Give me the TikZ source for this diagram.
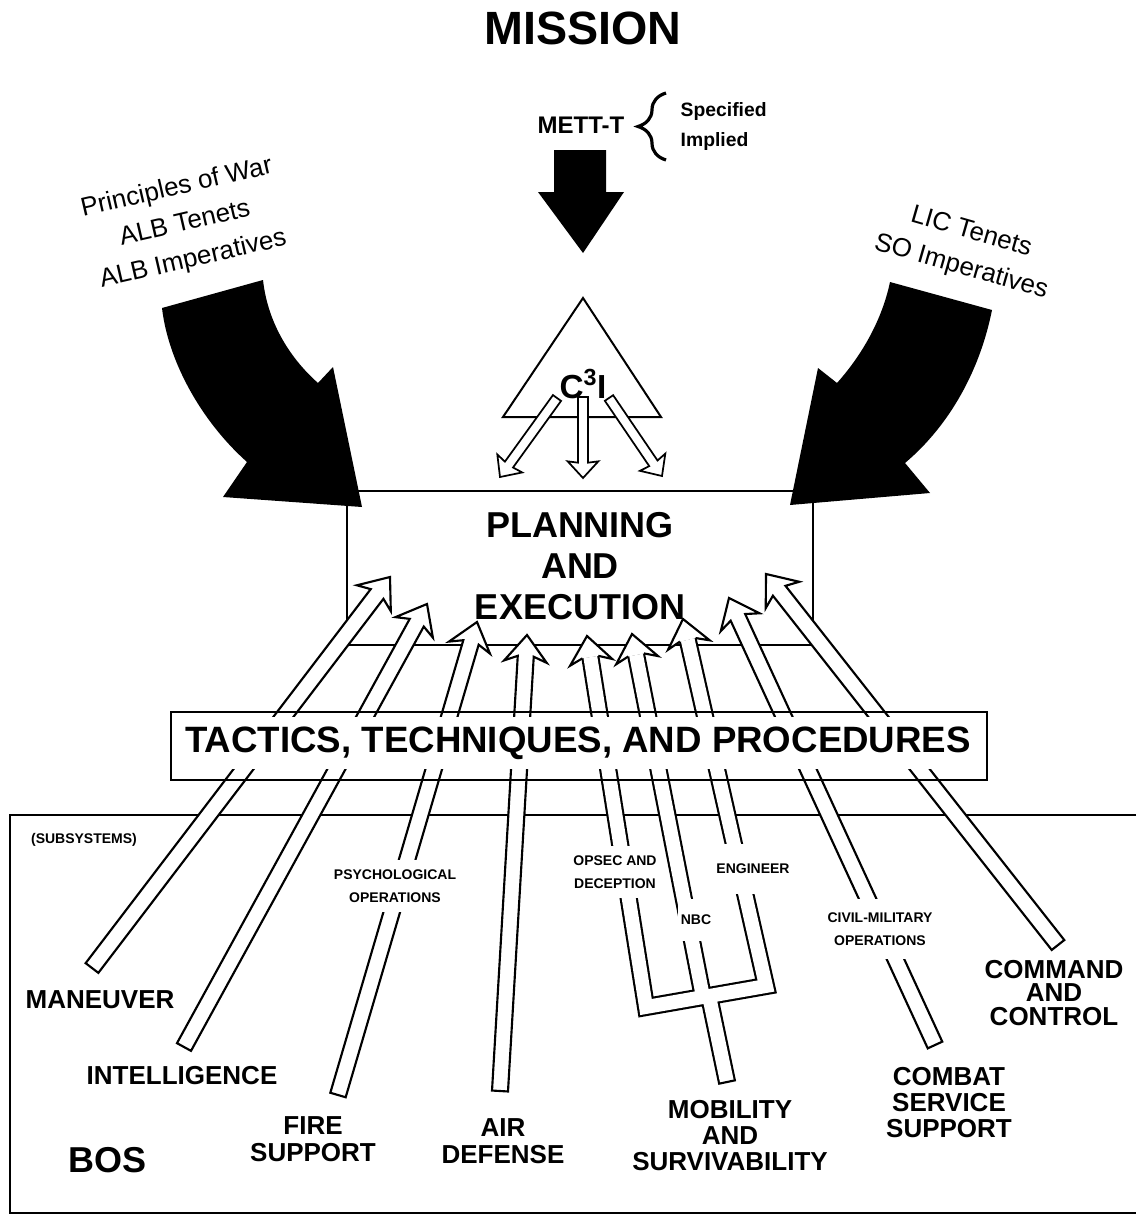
\documentclass[tikz,border=0pt]{standalone}
\usepackage{fontspec}
\setmainfont{Liberation Sans}
\usetikzlibrary{calc,decorations.pathreplacing}

\def\arrsw{6pt}\def\arrhw{16pt}\def\arrhb{16pt}\def\arrht{20pt}

\newcommand{\hollowarrow}[2]{%
  \coordinate (hb) at ($(#2)!\arrhb!(#1)$);
  \coordinate (hw) at ($(#2)!\arrht!(#1)$);
  \draw [arrowbody] ($(#1)!\arrsw!90:(#2)$) -- ($(hb)!\arrsw!90:(#2)$) -- ($(hw)!\arrhw!90:(#2)$) -- (#2) -- ($(hw)!\arrhw!-90:(#2)$) -- ($(hb)!\arrsw!-90:(#2)$) -- ($(#1)!\arrsw!-90:(#2)$) -- cycle ;
}
\newcommand{\hollowhead}[2]{%
  \coordinate (hb) at ($(#2)!\arrhb!(#1)$);
  \coordinate (hw) at ($(#2)!\arrht!(#1)$);
  \fill [white] ($(hb)!\arrsw!90:(#2)$) -- ($(hw)!\arrhw!90:(#2)$) -- (#2) -- ($(hw)!\arrhw!-90:(#2)$) -- ($(hb)!\arrsw!-90:(#2)$) -- cycle ;
  \draw [headline] ($(hb)!\arrsw!90:(#2)$) -- ($(hw)!\arrhw!90:(#2)$) -- (#2) -- ($(hw)!\arrhw!-90:(#2)$) -- ($(hb)!\arrsw!-90:(#2)$) ;
}

\tikzset{
  planbox/.style={draw, line width=1.5pt},
  bosframe/.style={draw, line width=1.3pt},
  arrowbody/.style={draw, fill=white, line width=1.6pt, line join=miter},
  headline/.style={draw, line width=1.6pt, line join=miter},
  pipeblack/.style={draw=black, line width=13.6pt, line join=miter},
  pipewhite/.style={draw=white, line width=10.4pt, line join=miter},
  bos/.style={font=\bfseries\fontsize{19.5}{19.5}\selectfont, align=center},
  subtag/.style={font=\bfseries\fontsize{10.5}{17}\selectfont, align=center, fill=white, inner xsep=2pt, inner ysep=7pt},
  slanttext/.style={font=\fontsize{19.5}{27.5}\selectfont, align=center},
}

\begin{document}
\begin{tikzpicture}[x=0.75pt,y=0.75pt,yscale=-1,xscale=1]
\useasboundingbox (0,0) rectangle (1136,1217);

%Shape: subsystems frame
\draw [bosframe] (1136,815) -- (10,815) -- (10,1213) -- (1136,1213) ;
%Shape: planning box
\draw [planbox] (347,491) rectangle (813,645) ;
%Shape: C3I triangle
\draw [planbox] (583,298) -- (661,417) -- (503,417) -- cycle ;

% C3I arrows
\begin{scope}
\def\arrsw{3.75pt}\def\arrhw{11.5pt}\def\arrhb{11.5pt}\def\arrht{12.5pt}
\tikzset{arrowbody/.append style={line width=1.3pt}}
\coordinate (cLT) at (557,398); \coordinate (cLH) at (500,477);
\coordinate (cMT) at (583,397); \coordinate (cMH) at (583,478);
\coordinate (cRT) at (609,398); \coordinate (cRH) at (662,476);
\hollowarrow{cLT}{cLH}
\hollowarrow{cMT}{cMH}
\hollowarrow{cRT}{cRH}
\end{scope}

%Shape: black arrows
\fill (554,150) -- (606,150) -- (606,192) -- (624,192) -- (583,253) -- (538,192) -- (554,192) -- cycle ;
\fill (162,308) -- (263,280) .. controls (268,325) and (292,360) .. (318,383) -- (333,367) -- (362,507) -- (223,497) -- (247,462) .. controls (200,420) and (168,360) .. (162,308) -- cycle ;
\fill (890,282) -- (992,310) .. controls (980,370) and (950,425) .. (905,463) -- (930,493) -- (790,505) -- (818,368) -- (837,383) .. controls (862,355) and (882,320) .. (890,282) -- cycle ;

% BOS arrows
\coordinate (manT) at (92,968);    \coordinate (manH) at (390,577);
\coordinate (intT) at (184,1047);  \coordinate (intH) at (427,604);
\coordinate (fireT) at (338,1095); \coordinate (fireH) at (477,622);
\coordinate (airT) at (500,1091);  \coordinate (airH) at (527,635);
\coordinate (cssT) at (935,1045);  \coordinate (cssH) at (729,598);
\coordinate (ccT) at (1058,945);   \coordinate (ccH) at (766,574);
\hollowarrow{manT}{manH}
\hollowarrow{intT}{intH}
\hollowarrow{fireT}{fireH}
\hollowarrow{airT}{airH}
\hollowarrow{cssT}{cssH}
\hollowarrow{ccT}{ccH}

% mobility and survivability fork
\coordinate (opsH) at (587,636);  \coordinate (opsE) at (646,1007);
\coordinate (nbcH) at (632,634);  \coordinate (nbcE) at (703,997);
\coordinate (engH) at (683,619);  \coordinate (engE) at (766,986);
\coordinate (stemJ) at (709,996); \coordinate (stemB) at (727,1082);
\coordinate (opsB) at ($(opsH)!\arrhb!(opsE)$);
\coordinate (nbcB) at ($(nbcH)!\arrhb!(nbcE)$);
\coordinate (engB) at ($(engH)!\arrhb!(engE)$);
\draw [pipeblack] (opsB) -- (opsE) -- (engE) -- (engB) (nbcB) -- (nbcE) (stemJ) -- (stemB) ;
\draw [pipewhite] (opsB) -- (opsE) -- (engE) -- (engB) (nbcB) -- (nbcE) (stemJ) -- (stemB) ;
\draw [headline] ($(stemB)!6.8pt!90:(stemJ)$) -- ($(stemB)!6.8pt!-90:(stemJ)$) ;
\hollowhead{opsE}{opsH}
\hollowhead{nbcE}{nbcH}
\hollowhead{engE}{engH}

%Shape: TTP box
\draw [planbox] (171,712) rectangle (987,780) ;
% Text Node
\draw (578,743) node [fill=white, inner xsep=2pt, inner ysep=7pt, font=\bfseries\fontsize{27.5}{28}\selectfont] (ttp) {TACTICS, TECHNIQUES, AND PROCEDURES};

% Text Node
\draw (395,886) node [subtag] (psyop) {PSYCHOLOGICAL\\OPERATIONS};
\draw (615,872) node [subtag] (opsec) {OPSEC AND\\DECEPTION};
\draw (696,920) node [subtag, inner ysep=12pt] (nbc) {NBC};
\draw (753,869) node [subtag, inner ysep=15pt] (eng) {ENGINEER};
\draw (880,929) node [subtag, inner ysep=10pt] (cmo) {CIVIL-MILITARY\\OPERATIONS};
\draw (84,840) node [font=\bfseries\fontsize{10.5}{12}\selectfont] (subsys) {(SUBSYSTEMS)};

% Text Node
\draw (583,28) node [font=\bfseries\fontsize{35}{36}\selectfont] (mission) {MISSION};
\draw (581,125) node [font=\bfseries\fontsize{18}{20}\selectfont] (mett) {METT-T};
\draw [line width=2.4pt, decorate, decoration={brace, amplitude=21pt}] (666,160) -- (666,93) ;
\draw (676,127) node [anchor=west, align=left, font=\bfseries\fontsize{14.5}{22.5}\selectfont] (spec) {Specified\\Implied};
\draw (583,384) node [font=\bfseries\fontsize{25}{26}\selectfont] (cci) {C\textsuperscript{3}I};
\draw (580,566) node [align=center, font=\bfseries\fontsize{27}{31}\selectfont] (plan) {PLANNING\\AND\\EXECUTION};

% Text Node
\draw (185,224) node [slanttext, rotate=13] (albw) {Principles of War\\ALB Tenets\\ALB Imperatives};
\draw (966,250) node [slanttext, rotate=-16] (lics) {LIC Tenets\\SO Imperatives};

% Text Node
\draw (100,1000) node [bos] (man) {MANEUVER};
\draw (182,1076) node [bos] (intel) {INTELLIGENCE};
\draw (313,1139) node [bos, font=\bfseries\fontsize{19.5}{20}\selectfont] (fire) {FIRE\\SUPPORT};
\draw (503,1141) node [bos, font=\bfseries\fontsize{19.5}{20}\selectfont] (air) {AIR\\DEFENSE};
\draw (730,1136) node [bos] (mob) {MOBILITY\\AND\\SURVIVABILITY};
\draw (949,1103) node [bos] (css) {COMBAT\\SERVICE\\SUPPORT};
\draw (1054,993) node [bos, font=\bfseries\fontsize{19.5}{17.6}\selectfont] (cc) {COMMAND\\AND\\CONTROL};
\draw (108,1160) node [font=\bfseries\fontsize{27}{28}\selectfont] (bos) {BOS};

\end{tikzpicture}
\end{document}
